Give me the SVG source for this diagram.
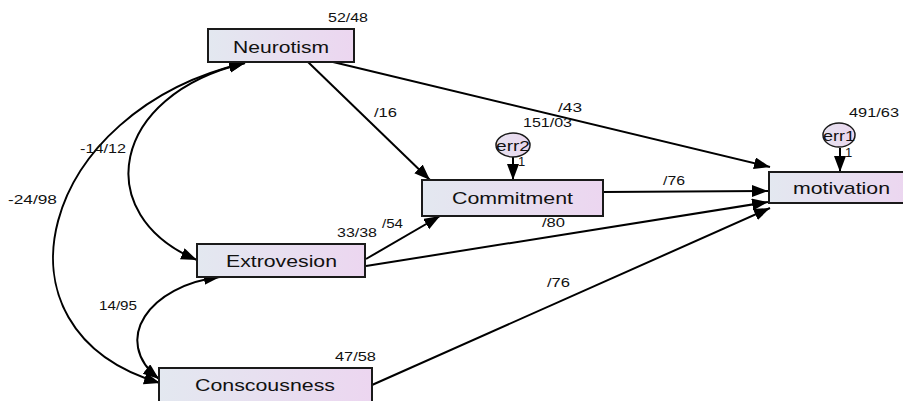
<svg xmlns="http://www.w3.org/2000/svg" width="903" height="401" viewBox="0 0 903 401">
<defs>
<linearGradient id="boxg" x1="0" y1="0" x2="1" y2="0">
<stop offset="0" stop-color="#e3e8f0"/>
<stop offset="1" stop-color="#ecd6f0"/>
</linearGradient>
<linearGradient id="ellg" x1="0" y1="0" x2="1" y2="0">
<stop offset="0" stop-color="#e6e2f0"/>
<stop offset="1" stop-color="#ead6ee"/>
</linearGradient>
<marker id="ah" markerUnits="userSpaceOnUse" markerWidth="17" markerHeight="13" refX="16" refY="6" orient="auto-start-reverse" viewBox="0 0 17 13">
<path d="M0,0 L16,6 L0,12 z" fill="#000"/>
</marker>
<style>
.box{fill:url(#boxg);stroke:#1a1a1a;stroke-width:2}
.ell{fill:url(#ellg);stroke:#1a1a1a;stroke-width:1.5}
.nt{font-family:"Liberation Sans",Arial,sans-serif;font-size:17px;fill:#111}
.lb{font-family:"Liberation Sans",Arial,sans-serif;font-size:13px;fill:#111}
.et{font-family:"Liberation Sans",Arial,sans-serif;font-size:15px;fill:#111}
.c{fill:none;stroke:#000;stroke-width:2;marker-end:url(#ah)}
.d{fill:none;stroke:#000;stroke-width:2;marker-end:url(#ah);marker-start:url(#ah)}
</style>
</defs>
<g id="connectors">
<path class="c" d="M308,62 L430,180"/>
<path class="c" d="M333,62 L770,167"/>
<path class="c" d="M603,192 L768,191"/>
<path class="c" d="M366,259 L440,216"/>
<path class="c" d="M366,266 L768,202"/>
<path class="c" d="M372,385 L770,208"/>
<path class="c" d="M513,157 L513,180"/>
<path class="c" d="M840,148 L840,172"/>
<path class="d" d="M245,63 C110,95 90,215 197,260"/>
<path class="d" d="M245,63 C40,110 -20,330 160,383"/>
<path class="d" d="M220,277 C150,285 110,340 159,379"/>
</g>
<g id="Neurotism">
<rect class="box" x="208" y="29" width="146" height="33"/>
<text class="nt" x="233" y="53" textLength="96" lengthAdjust="spacingAndGlyphs">Neurotism</text>
</g>
<g id="Commitment">
<rect class="box" x="422" y="180" width="181" height="36"/>
<text class="nt" x="452" y="204" textLength="121" lengthAdjust="spacingAndGlyphs">Commitment</text>
</g>
<g id="motivation">
<rect class="box" x="769" y="172" width="140" height="31"/>
<text class="nt" x="793" y="194" textLength="97" lengthAdjust="spacingAndGlyphs">motivation</text>
</g>
<g id="Extrovesion">
<rect class="box" x="197" y="244" width="168" height="33"/>
<text class="nt" x="226" y="267" textLength="111" lengthAdjust="spacingAndGlyphs">Extrovesion</text>
</g>
<g id="Conscousness">
<rect class="box" x="159" y="368" width="213" height="40"/>
<text class="nt" x="195" y="391" textLength="140" lengthAdjust="spacingAndGlyphs">Conscousness</text>
</g>
<g id="err2">
<ellipse class="ell" cx="513" cy="145" rx="17" ry="12"/>
<text class="et" x="496" y="151" textLength="34" lengthAdjust="spacingAndGlyphs">err2</text>
</g>
<g id="err1">
<ellipse class="ell" cx="839" cy="135" rx="16" ry="12"/>
<text class="et" x="823" y="141" textLength="32" lengthAdjust="spacingAndGlyphs">err1</text>
</g>
<g id="labels">
<text class="lb" x="328" y="22" textLength="40" lengthAdjust="spacingAndGlyphs">52/48</text>
<text class="lb" x="374" y="117" textLength="23" lengthAdjust="spacingAndGlyphs">/16</text>
<text class="lb" x="558" y="112" textLength="24" lengthAdjust="spacingAndGlyphs">/43</text>
<text class="lb" x="523" y="127" textLength="49" lengthAdjust="spacingAndGlyphs">151/03</text>
<text class="lb" x="849" y="117" textLength="50" lengthAdjust="spacingAndGlyphs">491/63</text>
<text class="lb" x="518" y="166">1</text>
<text class="lb" x="845" y="157">1</text>
<text class="lb" x="663" y="185" textLength="22" lengthAdjust="spacingAndGlyphs">/76</text>
<text class="lb" x="80" y="153" textLength="46" lengthAdjust="spacingAndGlyphs">-14/12</text>
<text class="lb" x="8" y="204" textLength="49" lengthAdjust="spacingAndGlyphs">-24/98</text>
<text class="lb" x="337" y="237" textLength="40" lengthAdjust="spacingAndGlyphs">33/38</text>
<text class="lb" x="382" y="228" textLength="21" lengthAdjust="spacingAndGlyphs">/54</text>
<text class="lb" x="542" y="227" textLength="23" lengthAdjust="spacingAndGlyphs">/80</text>
<text class="lb" x="547" y="287" textLength="23" lengthAdjust="spacingAndGlyphs">/76</text>
<text class="lb" x="335" y="361" textLength="41" lengthAdjust="spacingAndGlyphs">47/58</text>
<text class="lb" x="99" y="310" textLength="38" lengthAdjust="spacingAndGlyphs">14/95</text>
</g>
</svg>
